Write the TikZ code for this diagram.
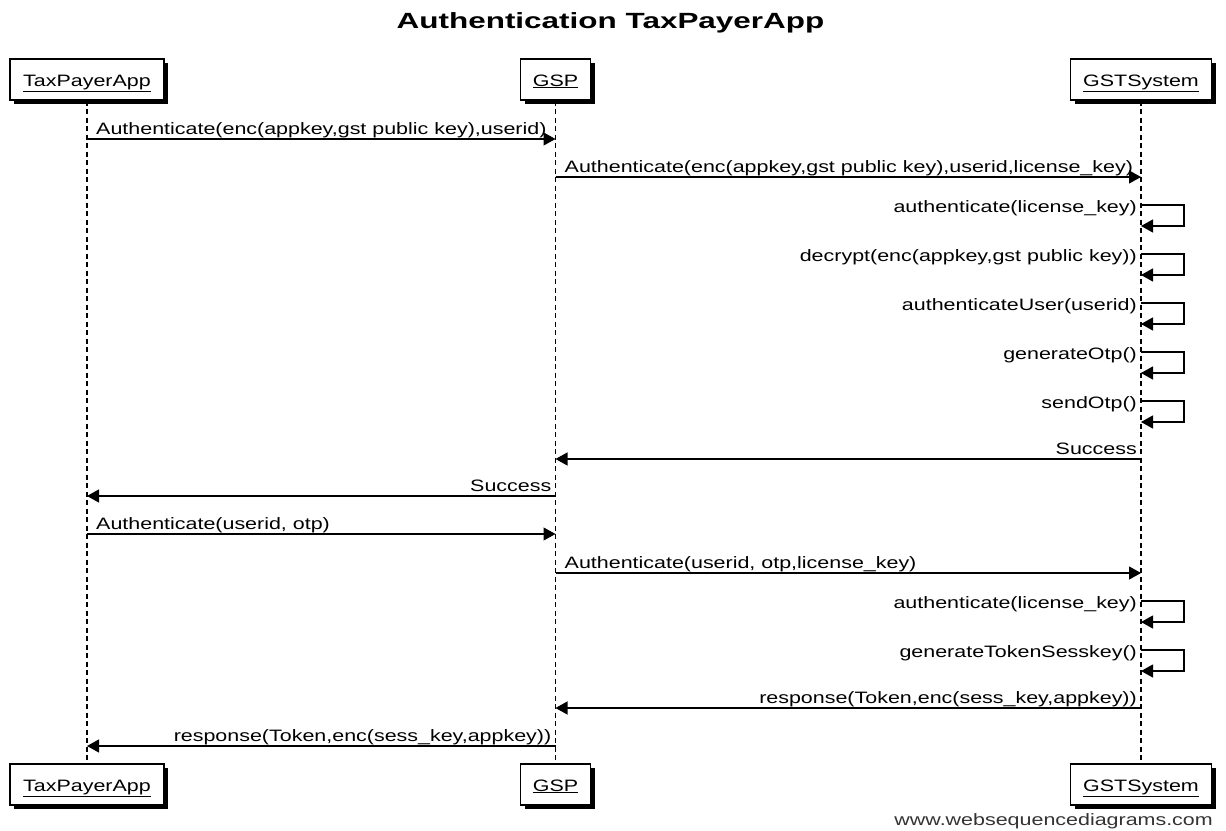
\documentclass[tikz,border=0pt]{standalone}
\usepackage{fontspec}
\setmainfont{Liberation Sans}[FakeStretch=1.3]
\newfontfamily\titlefont{Liberation Sans}[FakeStretch=1.43]
\usetikzlibrary{arrows.meta,shadows}
\begin{document}
\begin{tikzpicture}[x=1pt,y=-1pt,
  pbox/.style={draw=black, line width=1.2pt, fill=white, inner sep=0pt,
    text height=13pt, text depth=0pt, minimum height=41pt,
    font=\fontsize{16.5}{20}\selectfont,
    drop shadow={shadow xshift=4pt,shadow yshift=-4pt,fill=black,opacity=1}},
  life/.style={line width=1.4pt, dash pattern=on 5pt off 3.5pt},
  msg/.style={line width=1.2pt, -{Triangle[length=12pt,width=13pt]}},
  lbl/.style={inner sep=0pt, font=\fontsize{16.5}{20}\selectfont},
  lblR/.style={lbl, anchor=base west, xshift=9pt, yshift=5pt},
  lblL/.style={lbl, anchor=base east, xshift=-4pt, yshift=5pt},
  lblS/.style={lbl, anchor=base east, xshift=-4pt, yshift=-7pt},
]
\fill[white] (0,0) rectangle (1226,830);
\useasboundingbox (0,0) rectangle (1226,830);

\node[inner sep=0pt, anchor=base, font=\titlefont\fontsize{22}{26}\selectfont\bfseries] (title) at (610.5,28) {Authentication TaxPayerApp};

% participants
\node[pbox, minimum width=154pt] (tpa) at (87,79.5) {\underline{TaxPayerApp}};
\node[pbox, minimum width=70pt] (gsp) at (555.5,79.5) {\underline{GSP}};
\node[pbox, minimum width=141pt] (gst) at (1141,79.5) {\underline{GSTSystem}};
\node[pbox, minimum width=154pt] (tpab) at (87,784.5) {\underline{TaxPayerApp}};
\node[pbox, minimum width=70pt] (gspb) at (555.5,784.5) {\underline{GSP}};
\node[pbox, minimum width=141pt] (gstb) at (1141,784.5) {\underline{GSTSystem}};

% lifelines
\draw[life] (tpa.south) -- (tpab.north);
\draw[life] (gsp.south) -- (gspb.north);
\draw[life] (gst.south) -- (gstb.north);

% 1
\coordinate (m1a) at (tpa |- 0,139); \coordinate (m1b) at (gsp |- 0,139);
\draw[msg] (m1a) -- (m1b);
\node[lblR] (l1) at (m1a) {Authenticate(enc(appkey,gst public key),userid)};
% 2
\coordinate (m2a) at (gsp |- 0,177); \coordinate (m2b) at (gst |- 0,177);
\draw[msg] (m2a) -- (m2b);
\node[lblR] (l2) at (m2a) {Authenticate(enc(appkey,gst public key),userid,license\_key)};
% 3
\coordinate (s3a) at (gst |- 0,205); \coordinate (s3b) at (gst |- 0,226);
\draw[msg] (s3a) -- ++(43,0) |- (s3b);
\node[lblS] (l3) at (s3a) {authenticate(license\_key)};
% 4
\coordinate (s4a) at (gst |- 0,254); \coordinate (s4b) at (gst |- 0,275);
\draw[msg] (s4a) -- ++(43,0) |- (s4b);
\node[lblS] (l4) at (s4a) {decrypt(enc(appkey,gst public key))};
% 5
\coordinate (s5a) at (gst |- 0,303); \coordinate (s5b) at (gst |- 0,324);
\draw[msg] (s5a) -- ++(43,0) |- (s5b);
\node[lblS] (l5) at (s5a) {authenticateUser(userid)};
% 6
\coordinate (s6a) at (gst |- 0,352); \coordinate (s6b) at (gst |- 0,373);
\draw[msg] (s6a) -- ++(43,0) |- (s6b);
\node[lblS] (l6) at (s6a) {generateOtp()};
% 7
\coordinate (s7a) at (gst |- 0,401); \coordinate (s7b) at (gst |- 0,422);
\draw[msg] (s7a) -- ++(43,0) |- (s7b);
\node[lblS] (l7) at (s7a) {sendOtp()};
% 8
\coordinate (m8a) at (gst |- 0,459); \coordinate (m8b) at (gsp |- 0,459);
\draw[msg] (m8a) -- (m8b);
\node[lblL] (l8) at (m8a) {Success};
% 9
\coordinate (m9a) at (gsp |- 0,496); \coordinate (m9b) at (tpa |- 0,496);
\draw[msg] (m9a) -- (m9b);
\node[lblL] (l9) at (m9a) {Success};
% 10
\coordinate (m10a) at (tpa |- 0,534); \coordinate (m10b) at (gsp |- 0,534);
\draw[msg] (m10a) -- (m10b);
\node[lblR] (l10) at (m10a) {Authenticate(userid, otp)};
% 11
\coordinate (m11a) at (gsp |- 0,573); \coordinate (m11b) at (gst |- 0,573);
\draw[msg] (m11a) -- (m11b);
\node[lblR] (l11) at (m11a) {Authenticate(userid, otp,license\_key)};
% 12
\coordinate (s12a) at (gst |- 0,601); \coordinate (s12b) at (gst |- 0,622);
\draw[msg] (s12a) -- ++(43,0) |- (s12b);
\node[lblS] (l12) at (s12a) {authenticate(license\_key)};
% 13
\coordinate (s13a) at (gst |- 0,650); \coordinate (s13b) at (gst |- 0,671);
\draw[msg] (s13a) -- ++(43,0) |- (s13b);
\node[lblS] (l13) at (s13a) {generateTokenSesskey()};
% 14
\coordinate (m14a) at (gst |- 0,708); \coordinate (m14b) at (gsp |- 0,708);
\draw[msg] (m14a) -- (m14b);
\node[lblL] (l14) at (m14a) {response(Token,enc(sess\_key,appkey))};
% 15
\coordinate (m15a) at (gsp |- 0,746); \coordinate (m15b) at (tpa |- 0,746);
\draw[msg] (m15a) -- (m15b);
\node[lblL] (l15) at (m15a) {response(Token,enc(sess\_key,appkey))};

\node[lbl, anchor=base east, text=black!80] (wm) at (1213,825) {www.websequencediagrams.com};
\end{tikzpicture}
\end{document}
